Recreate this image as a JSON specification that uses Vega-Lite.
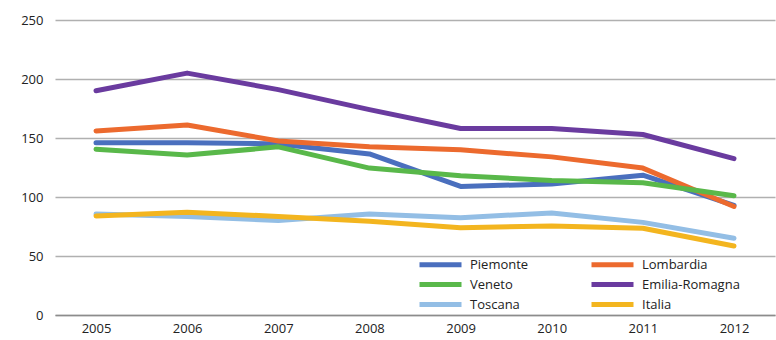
{
  "$schema": "https://vega.github.io/schema/vega-lite/v6.json",
  "width": 720,
  "height": 295,
  "autosize": {"type": "none"},
  "padding": {"left": 55, "top": 20, "right": 1, "bottom": 25},
  "background": "white",
  "config": {
    "font": "Open Sans",
    "view": {"stroke": null}
  },
  "data": {
    "values": [
      {"year": "2005", "region": "Piemonte", "value": 146},
      {"year": "2006", "region": "Piemonte", "value": 146},
      {"year": "2007", "region": "Piemonte", "value": 145},
      {"year": "2008", "region": "Piemonte", "value": 136.5},
      {"year": "2009", "region": "Piemonte", "value": 109},
      {"year": "2010", "region": "Piemonte", "value": 111},
      {"year": "2011", "region": "Piemonte", "value": 118.5},
      {"year": "2012", "region": "Piemonte", "value": 93},
      {"year": "2005", "region": "Lombardia", "value": 156},
      {"year": "2006", "region": "Lombardia", "value": 161},
      {"year": "2007", "region": "Lombardia", "value": 147.5},
      {"year": "2008", "region": "Lombardia", "value": 142.5},
      {"year": "2009", "region": "Lombardia", "value": 140},
      {"year": "2010", "region": "Lombardia", "value": 134},
      {"year": "2011", "region": "Lombardia", "value": 124.5},
      {"year": "2012", "region": "Lombardia", "value": 92},
      {"year": "2005", "region": "Veneto", "value": 140.5},
      {"year": "2006", "region": "Veneto", "value": 135.5},
      {"year": "2007", "region": "Veneto", "value": 142.5},
      {"year": "2008", "region": "Veneto", "value": 124.5},
      {"year": "2009", "region": "Veneto", "value": 118},
      {"year": "2010", "region": "Veneto", "value": 114},
      {"year": "2011", "region": "Veneto", "value": 112},
      {"year": "2012", "region": "Veneto", "value": 101},
      {"year": "2005", "region": "Emilia-Romagna", "value": 190},
      {"year": "2006", "region": "Emilia-Romagna", "value": 205},
      {"year": "2007", "region": "Emilia-Romagna", "value": 191},
      {"year": "2008", "region": "Emilia-Romagna", "value": 174},
      {"year": "2009", "region": "Emilia-Romagna", "value": 158},
      {"year": "2010", "region": "Emilia-Romagna", "value": 158},
      {"year": "2011", "region": "Emilia-Romagna", "value": 153},
      {"year": "2012", "region": "Emilia-Romagna", "value": 132.5},
      {"year": "2005", "region": "Toscana", "value": 85.5},
      {"year": "2006", "region": "Toscana", "value": 83.5},
      {"year": "2007", "region": "Toscana", "value": 80},
      {"year": "2008", "region": "Toscana", "value": 85.5},
      {"year": "2009", "region": "Toscana", "value": 82.5},
      {"year": "2010", "region": "Toscana", "value": 86.5},
      {"year": "2011", "region": "Toscana", "value": 78.5},
      {"year": "2012", "region": "Toscana", "value": 65},
      {"year": "2005", "region": "Italia", "value": 84},
      {"year": "2006", "region": "Italia", "value": 87},
      {"year": "2007", "region": "Italia", "value": 83.5},
      {"year": "2008", "region": "Italia", "value": 79.5},
      {"year": "2009", "region": "Italia", "value": 74},
      {"year": "2010", "region": "Italia", "value": 75.5},
      {"year": "2011", "region": "Italia", "value": 73.5},
      {"year": "2012", "region": "Italia", "value": 58.5}
    ]
  },
  "mark": {"type": "line", "strokeWidth": 5, "strokeJoin": "round", "strokeCap": "round"},
  "encoding": {
    "x": {
      "field": "year",
      "type": "ordinal",
      "scale": {"type": "point", "padding": 0.45},
      "axis": {
        "title": null,
        "labelAngle": 0,
        "ticks": false,
        "domain": true,
        "domainColor": "#8c8c8c",
        "domainWidth": 1.5,
        "labelFontSize": 13,
        "labelColor": "#222",
        "labelPadding": 7
      }
    },
    "y": {
      "field": "value",
      "type": "quantitative",
      "scale": {"domain": [0, 250], "nice": false},
      "axis": {
        "title": null,
        "values": [0, 50, 100, 150, 200, 250],
        "ticks": false,
        "domain": false,
        "gridColor": "#b0b0b0",
        "gridWidth": 1.5,
        "labelFontSize": 13,
        "labelColor": "#222",
        "labelPadding": 12
      }
    },
    "color": {
      "field": "region",
      "type": "nominal",
      "sort": ["Piemonte", "Lombardia", "Veneto", "Emilia-Romagna", "Toscana", "Italia"],
      "scale": {
        "domain": ["Piemonte", "Lombardia", "Veneto", "Emilia-Romagna", "Toscana", "Italia"],
        "range": ["#4a6fbe", "#ec6a2e", "#59b84a", "#6a3b9f", "#93bee5", "#f3b51f"]
      },
      "legend": {
        "title": null,
        "orient": "none",
        "legendX": 376,
        "legendY": 235,
        "columns": 2,
        "direction": "horizontal",
        "symbolType": "M-3,0H3",
        "symbolSize": 196,
        "symbolStrokeWidth": 5,
        "labelFontSize": 13,
        "labelColor": "#222",
        "labelOffset": 20,
        "labelBaseline": "middle",
        "columnPadding": 52,
        "rowPadding": -1.5
      }
    }
  }
}
